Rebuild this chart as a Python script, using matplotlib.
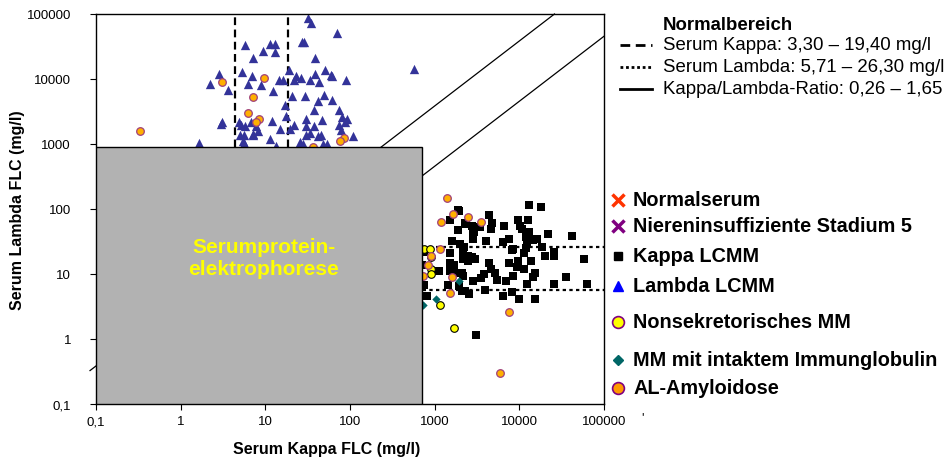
import matplotlib.pyplot as plt
from matplotlib.lines import Line2D
from matplotlib.patches import Rectangle
import numpy as np

plt.rcParams['font.family'] = ['Liberation Sans', 'DejaVu Sans']

W, H = 949, 464

# reference lines as drawn in the picture
kappa_norm = [4.4, 18.5]
lambda_norm = [5.71, 26.3]
ratio_lines = [0.26, 2.2]
# area covered by serum protein electrophoresis
spe_kappa = 700
spe_lambda = 900

xticks = [0.1, 1, 10, 100, 1000, 10000, 100000]
tick_labels = ['0,1', '1', '10', '100', '1000', '10000', '100000']

# Kappa LCMM (squares)
kappa_lcmm_k = [12900, 17900, 1930, 1510, 4360, 2330, 2750, 3420, 4730, 4610,
                6560, 9600, 12600, 10100, 10700, 1880, 2820, 2820, 12900, 11900,
                15200, 21700, 41700, 1600, 4020, 6390, 7520, 1980, 2210, 12300,
                11900, 18400, 1510, 2150, 2470, 2750, 2980, 2150, 8380, 11300,
                20000, 25500, 25500, 57800, 2470, 7520, 9600, 9340, 11300, 13700,
                4360, 4610, 5140, 1510, 1690, 1120, 1510, 1730, 2090, 2150,
                15200, 14400, 3810, 3510, 8380, 35400, 2820, 5420, 6930, 1430,
                1930, 2090, 2270, 2530, 745, 12300, 25500, 62700, 3920, 809,
                6390, 8150, 9860, 15200, 3060, 706, 745, 16100, 14400, 8150,
                1880, 2900, 2270]
kappa_lcmm_l = [114, 106, 92, 67, 80, 58, 54, 52, 60, 49,
                54, 67, 67, 54, 49, 47, 42, 34, 44, 37,
                35, 41, 38, 32, 32, 31, 34, 29, 26, 29,
                25, 26, 21, 22, 19, 18, 17, 17, 24, 21,
                19, 22, 19, 17, 16, 15, 16, 13, 12, 16,
                15, 12, 10.3, 15, 14, 11, 11, 10.3, 10.3, 9.3,
                10.3, 8.9, 9.9, 8.6, 9.3, 8.9, 7.8, 8.0, 7.8, 6.7,
                6.5, 5.4, 5.4, 4.9, 6.7, 7.0, 7.0, 7.0, 5.6, 4.6,
                4.6, 5.3, 4.1, 4.1, 1.15, 14, 22, 35, 33, 23,
                95, 45, 60]

# Lambda LCMM (triangles)
lambda_lcmm_k = [31.8, 34.5, 70, 5.7, 11.3, 13.0, 27.0, 28.6, 9.4, 13.0,
                 7.1, 38.5, 568, 2.8, 5.3, 6.9, 19.0, 23.0, 26.3, 33.6,
                 38.5, 50.6, 59.5, 61, 90, 2.2, 3.6, 6.2, 8.9, 14.5,
                 16.1, 21.8, 43.0, 12.3, 20.6, 29.4, 41.8, 49.2, 61, 17.0,
                 37.5, 74, 17.5, 30.1, 46.6, 80, 92, 87, 3.1, 3.0,
                 4.9, 5.15, 5.7, 6.8, 7.7, 8.2, 7.1, 12.0, 14.9, 19.5,
                 21.8, 30.1, 37.5, 74, 78, 33.6, 30.1, 41.8, 45.3, 108,
                 5.0, 5.6, 5.4, 5.6, 11.3, 25.6, 27.8, 47.9, 53.3, 1.64,
                 13.3, 7.1]
lambda_lcmm_l = [86900, 72800, 51100, 33500, 34700, 34700, 37200, 37200, 27100, 26200,
                 21100, 21100, 14300, 12000, 12900, 11200, 13800, 11200, 10400, 9720,
                 12000, 13800, 11600, 11200, 9720, 8440, 6830, 8440, 8160, 9720,
                 9720, 9720, 9060, 6600, 5530, 5530, 4630, 5720, 4800, 4020,
                 3370, 3370, 2730, 2450, 2370, 2630, 2450, 2210, 2210, 2060,
                 2210, 1990, 1920, 2210, 1920, 1610, 1450, 2290, 1720, 1720,
                 1990, 1920, 1920, 1990, 1660, 1500, 1400, 1350, 1400, 1350,
                 1400, 1400, 1130, 1050, 1210, 1090, 1010, 1010, 1010, 1050,
                 945, 1400]

# AL-Amyloidose
al_k = [1390, 1650, 2470, 1180, 3510, 1150, 902, 840, 730, 1600, 1510, 7520,
        5890, 0.33, 3.1, 9.6, 7.1, 6.2, 8.4, 7.7, 85, 76, 37]
al_l = [146, 83, 74, 62, 62, 24, 19, 14, 9.3, 8.9, 5.1, 2.6,
        0.30, 1600, 9000, 10400, 5200, 3000, 2450, 2200, 1250, 1130, 900]

# Nonsekretorisches MM
nsmm_k = [745, 870, 910, 902, 902, 1150, 1690]
nsmm_l = [24, 24, 18, 12, 9.9, 3.3, 1.5]

# MM mit intaktem Immunglobulin
iimm_k = [1930, 1030, 730]
iimm_l = [7.8, 4.1, 3.3]

# Normalserum / Niereninsuffizienz (under the SPE box)
normal_k = [8, 12, 15, 10, 20]
normal_l = [12, 15, 20, 9, 18]
renal_k = [60, 90, 150, 40]
renal_l = [80, 110, 140, 70]


def px(x, y):
    return x / W, 1 - y / H


fig = plt.figure(figsize=(W / 100, H / 100), dpi=100)
ax = fig.add_axes([96 / W, 1 - 405 / H, 508 / W, 390 / H])
ax.set_xscale('log')
ax.set_yscale('log')
ax.set_xlim(0.1, 100000)
ax.set_ylim(0.1, 100000)

# normal range lines
for k in kappa_norm:
    ax.axvline(k, color='black', lw=1.6, linestyle=(0, (3.5, 2)), zorder=1.5)
for l in lambda_norm:
    ax.axhline(l, color='black', lw=1.6, linestyle=(0, (1.5, 1.5)), zorder=1.5)
kk = np.array([0.085, 100000 * ratio_lines[0]])
ax.plot(kk, kk / ratio_lines[0], color='black', lw=0.9, zorder=1.5, clip_on=False)
kk = np.array([0.1 * ratio_lines[1], 100000])
ax.plot(kk, kk / ratio_lines[1], color='black', lw=0.9, zorder=1.5)

ax.scatter(normal_k, normal_l, marker='x', color='#ff3300', s=30, zorder=2)
ax.scatter(renal_k, renal_l, marker='x', color='#800080', s=30, zorder=2)
ax.scatter(kappa_lcmm_k, kappa_lcmm_l, marker='s', color='black', s=30,
           linewidths=0, zorder=2)
ax.scatter(lambda_lcmm_k, lambda_lcmm_l, marker='^', color='#333399', s=45,
           linewidths=0, zorder=2)
ax.scatter(nsmm_k, nsmm_l, marker='o', facecolor='#ffff00', edgecolor='black',
           s=30, linewidths=0.8, zorder=3)
ax.scatter(iimm_k, iimm_l, marker='D', color='#006666', s=18, linewidths=0,
           zorder=3)
ax.scatter(al_k, al_l, marker='o', facecolor='#ffb000', edgecolor='#a0407a',
           s=30, linewidths=0.9, zorder=3)

# SPE box
ax.add_patch(Rectangle((0.1, 0.1), spe_kappa - 0.1, spe_lambda - 0.1,
                       facecolor='#b2b2b2', edgecolor='black', lw=1, zorder=4))
ax.text(9.6, 18, 'Serumprotein-\nelektrophorese', color='#ffff00',
        fontsize=15, fontweight='bold', ha='center', va='center',
        linespacing=1.2, zorder=5)

ax.set_xticks(xticks)
ax.set_xticklabels(tick_labels)
ax.set_yticks(xticks)
ax.set_yticklabels(tick_labels)
ax.minorticks_off()
ax.tick_params(direction='out', length=4, width=0.8, labelsize=9.5)
ax.tick_params(axis='y', pad=14)
ax.tick_params(axis='x', pad=4)
for s in ax.spines.values():
    s.set_linewidth(1)
    s.set_color('black')

fig.text(*px(327, 450), 'Serum Kappa FLC (mg/l)', fontsize=11.5,
         fontweight='bold', ha='center', va='center')
fig.text(*px(18, 210), 'Serum Lambda FLC (mg/l)', fontsize=11.5,
         fontweight='bold', ha='center', va='center', rotation=90)

# legend: normal ranges
fig.text(*px(663, 25), 'Normalbereich', fontsize=13.4, fontweight='bold',
         va='center')
norm_labels = ['Serum Kappa: 3,30 – 19,40 mg/l',
               'Serum Lambda: 5,71 – 26,30 mg/l',
               'Kappa/Lambda-Ratio: 0,26 – 1,65']
norm_styles = [(0, (3.5, 2)), (0, (1, 1)), '-']
for i, (lab, ls) in enumerate(zip(norm_labels, norm_styles)):
    y = 46 + i * 22
    x0, y0 = px(620, y)
    x1, _ = px(652, y)
    fig.add_artist(Line2D([x0, x1], [y0, y0], color='black', lw=2,
                          linestyle=ls, transform=fig.transFigure))
    fig.text(*px(663, y), lab, fontsize=13.4, va='center')

# legend: groups
grp_labels = ['Normalserum', 'Niereninsuffiziente Stadium 5', 'Kappa LCMM',
              'Lambda LCMM', 'Nonsekretorisches MM',
              'MM mit intaktem Immunglobulin', 'AL-Amyloidose']
grp_y = [201, 227, 257, 287, 323, 361, 389]
grp_style = [dict(marker='x', color='#ff3300', markersize=8, mew=2.5),
             dict(marker='x', color='#800080', markersize=8, mew=2.5),
             dict(marker='s', color='black', markersize=5.5),
             dict(marker='^', color='#0000ff', markersize=7),
             dict(marker='o', markerfacecolor='#ffff00', markeredgecolor='#800080',
                  markersize=8.5, mew=1.2),
             dict(marker='D', color='#006666', markersize=5.5),
             dict(marker='o', markerfacecolor='#ff9900', markeredgecolor='#800080',
                  markersize=8.5, mew=1.2)]
for lab, y, st in zip(grp_labels, grp_y, grp_style):
    mx, my = px(618, y)
    fig.add_artist(Line2D([mx], [my], linestyle='none',
                          transform=fig.transFigure, **st))
    fig.text(*px(633, y), lab, fontsize=14.3, fontweight='bold', va='center')

fig.text(*px(643, 418), "'", fontsize=9, ha='center', va='center')

fig.savefig('out.png', dpi=100, facecolor='white')
